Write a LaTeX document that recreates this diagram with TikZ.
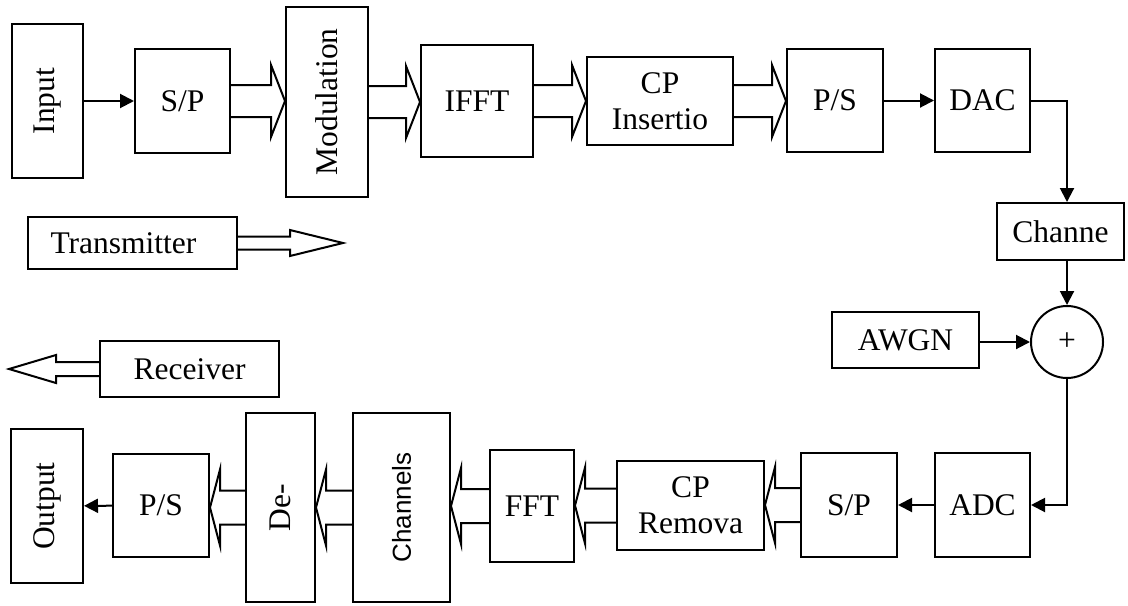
\documentclass[tikz,border=0pt]{standalone}
\usepackage{fontspec}
\setmainfont{Liberation Serif}
\newfontfamily\sansblk{Liberation Sans}
\usepackage{graphicx}
\usepackage{tikz}
\usetikzlibrary{arrows.meta, calc}

% hollow block arrow: from, to, shaft half, head half, head length
\newcommand{\fatarrow}[5]{%
    \draw[fat] let \p1=(#1), \p2=(#2) in
        (\x1,\y1+#3) -- (\x2-#5,\y1+#3) -- (\x2-#5,\y1+#4) -- (\x2,\y1)
        -- (\x2-#5,\y1-#4) -- (\x2-#5,\y1-#3) -- (\x1,\y1-#3);}

\begin{document}
\begin{tikzpicture}[x=1pt, y=-1pt,
        font=\fontsize{15.75}{18}\selectfont,
        block/.style={rectangle, draw, line width=1pt, inner sep=0pt, align=center},
        sum/.style={circle, draw, line width=1pt, inner sep=0pt, minimum size=36pt},
        arrow/.style={-{Triangle[length=7pt, width=7pt]}, line width=1pt},
        fat/.style={line width=1pt, line join=miter}
    ]
        \useasboundingbox (0,0) rectangle (564,302.5);

        % transmitter chain
        \node[block, minimum width=35.5pt, minimum height=77pt] (in) at (23.75,50.5) {\rotatebox{90}{Input}};
        \node[block, minimum width=47.5pt, minimum height=52pt] (sp1) at (91.25,50.5) {S/P};
        \node[block, minimum width=41pt, minimum height=95pt] (mod) at (163.5,51) {\rotatebox{90}{Modulation}};
        \node[block, minimum width=56pt, minimum height=56pt] (ifft) at (238.5,50.5) {IFFT};
        \node[block, minimum width=73pt, minimum height=44pt] (cpi) at (330,50.5) {CP\\Insertio};
        \node[block, minimum width=48pt, minimum height=51.5pt] (ps1) at (417.5,50.25) {P/S};
        \node[block, minimum width=47.5pt, minimum height=51.5pt] (dac) at (491.25,50.25) {DAC};

        % channel
        \node[block, minimum width=63.5pt, minimum height=28.5pt] (chan) at (530.25,115.75) {Channe};
        \node[sum] (add) at (533.5,171) {+};
        \node[block, minimum width=73.5pt, minimum height=28pt] (awgn) at (452.75,170) {AWGN};

        % receiver chain
        \node[block, minimum width=47.5pt, minimum height=52pt] (adc) at (491.25,252.5) {ADC};
        \node[block, minimum width=48pt, minimum height=52pt] (sp2) at (424.5,252.5) {S/P};
        \node[block, minimum width=73.5pt, minimum height=44.5pt] (cpr) at (345.25,252.75) {CP\\Remova};
        \node[block, minimum width=42pt, minimum height=56pt] (fft) at (266,253) {FFT};
        \node[block, minimum width=48.5pt, minimum height=94.5pt] (chs) at (200.75,253.75) {\rotatebox{90}{\sansblk\fontsize{13}{15}\selectfont Channels}};
        \node[block, minimum width=34.5pt, minimum height=94.5pt] (dem) at (140.25,253.75) {\rotatebox{90}{De-}};
        \node[block, minimum width=48pt, minimum height=51.5pt] (ps2) at (80.5,252.75) {P/S};
        \node[block, minimum width=36pt, minimum height=77pt] (out) at (23.5,253) {\rotatebox{90}{Output}};

        % legend
        \node[block, minimum width=104.5pt, minimum height=26pt] (tx) at (66.25,121.5) {Transmitter\hspace*{9pt}};
        \node[block, minimum width=89.5pt, minimum height=28pt] (rx) at (94.75,184.5) {Receiver};
        \coordinate (txend) at (171.5,121.5);
        \coordinate (rxend) at (4.5,184.5);

        \draw[arrow] (in) -- (sp1);
        \fatarrow{sp1.east}{mod.west}{8pt}{18pt}{7pt}
        \fatarrow{mod.east}{ifft.west}{8pt}{18pt}{7pt}
        \fatarrow{ifft.east}{cpi.west}{8pt}{18pt}{7pt}
        \fatarrow{cpi.east}{ps1.west}{8pt}{18pt}{7pt}
        \draw[arrow] (ps1) -- (dac);
        \draw[arrow] (dac.east) -| (add.north |- chan.north);
        \draw[arrow] (add.north |- chan.south) -- (add.north);
        \draw[arrow] (awgn.east |- add.west) -- (add.west);
        \draw[arrow] (add.south) |- (adc.east);
        \draw[arrow] (adc) -- (sp2);
        \fatarrow{sp2.west}{cpr.east}{8.5pt}{19pt}{-5pt}
        \fatarrow{cpr.west}{fft.east}{8.5pt}{19pt}{-5pt}
        \fatarrow{fft.west}{chs.east}{8.5pt}{19pt}{-5pt}
        \fatarrow{chs.west}{dem.east}{8.5pt}{19pt}{-5pt}
        \fatarrow{dem.west}{ps2.east}{8.5pt}{19pt}{-5pt}
        \draw[arrow] (ps2) -- (out);

        \fatarrow{tx.east}{txend}{3.25pt}{6.5pt}{26.5pt}
        \fatarrow{rx.west}{rxend}{3.5pt}{7pt}{-23.5pt}
    \end{tikzpicture}
\end{document}
